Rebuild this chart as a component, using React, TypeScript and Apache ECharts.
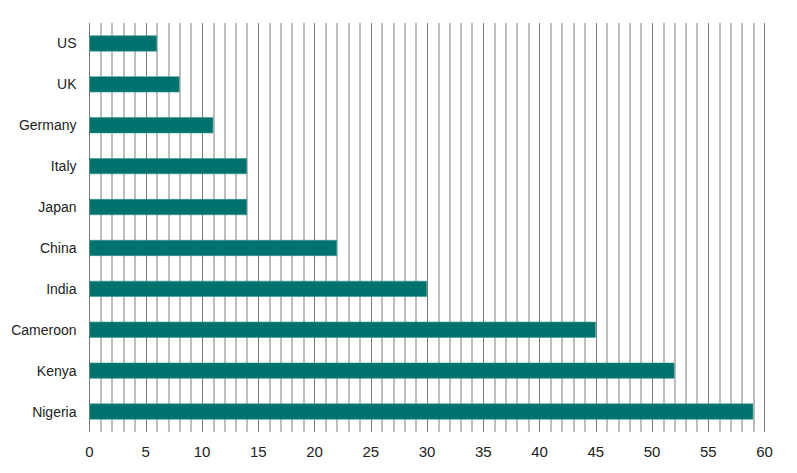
import React, { useEffect, useRef } from "react";
import * as echarts from "echarts";

const categories = ["US", "UK", "Germany", "Italy", "Japan", "China", "India", "Cameroon", "Kenya", "Nigeria"];
const values = [6, 8, 11, 14, 14, 22, 30, 45, 52, 59];
const xMin = 0;
const xMax = 60;
const xInterval = 5;

export default function App() {
  const ref = useRef<HTMLDivElement>(null);
  useEffect(() => {
    if (!ref.current) return;
    const chart = echarts.init(ref.current, null, { renderer: "svg" });
    const font = "'Liberation Sans', Arial, sans-serif";
    chart.setOption({
      animation: false,
      backgroundColor: "#ffffff",
      grid: { left: 89.5, right: 32.5, top: 23, bottom: 41, containLabel: false },
      xAxis: {
        type: "value",
        min: xMin,
        max: xMax,
        interval: xInterval,
        axisLine: { show: false },
        axisTick: { show: false },
        axisLabel: { color: "#222", fontSize: 15, fontFamily: font, margin: 12 },
        splitLine: { show: true, lineStyle: { color: "#7a7a7a", width: 1 } },
        minorTick: { show: false, splitNumber: 5 },
        minorSplitLine: { show: true, lineStyle: { color: "#bdbdbd", width: 2 } },
      },
      yAxis: {
        type: "category",
        data: categories,
        inverse: true,
        axisLine: { show: false },
        axisTick: { show: false },
        axisLabel: { color: "#222", fontSize: 14, fontFamily: font, margin: 13 },
        splitLine: { show: false },
      },
      series: [
        {
          type: "bar",
          data: values,
          barWidth: 16,
          itemStyle: { color: "#00726D", borderColor: "#3a9690", borderWidth: 0.6 },
        },
      ],
    });
    return () => chart.dispose();
  }, []);
  return <div ref={ref} style={{ position: "fixed", left: 0, top: 0, width: 797, height: 473 }} />;
}
